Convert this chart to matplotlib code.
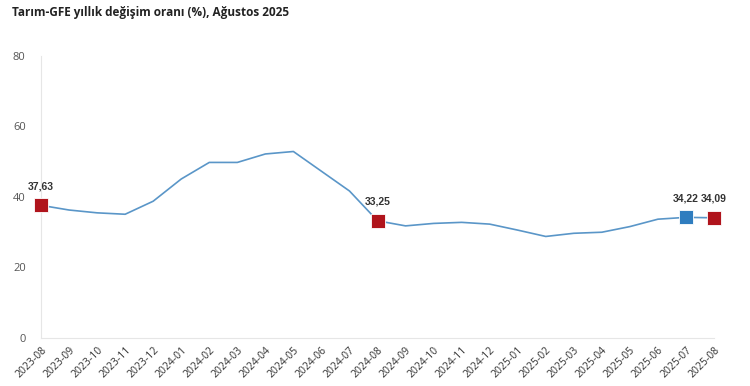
import matplotlib
matplotlib.use("Agg")
import matplotlib.pyplot as plt

plt.rcParams['font.family'] = ['Open Sans', 'DejaVu Sans']

months = ["2023-08", "2023-09", "2023-10", "2023-11", "2023-12",
          "2024-01", "2024-02", "2024-03", "2024-04", "2024-05", "2024-06", "2024-07",
          "2024-08", "2024-09", "2024-10", "2024-11", "2024-12",
          "2025-01", "2025-02", "2025-03", "2025-04", "2025-05", "2025-06", "2025-07",
          "2025-08"]
values = [37.63, 36.3, 35.5, 35.1, 38.8,
          45.1, 49.8, 49.8, 52.2, 52.9, 47.3, 41.7,
          33.25, 31.8, 32.5, 32.8, 32.3,
          30.6, 28.8, 29.7, 30.0, 31.6, 33.7, 34.22,
          34.09]

red_points = ["2023-08", "2024-08", "2025-08"]
blue_points = ["2025-07"]

fig = plt.figure(figsize=(7.5, 3.86), dpi=100)
ax = fig.add_axes([0.0547, 0.1244, 0.8973, 0.7306])

x = list(range(len(months)))
ax.plot(x, values, color="#5a96c8", lw=1.2, zorder=2)

for m in red_points + blue_points:
    i = months.index(m)
    col = "#b0141c" if m in red_points else "#2f7dbf"
    ax.plot(i, values[i], marker="s", ms=10, color=col, mec="#ffffff", mew=0.6,
            linestyle="none", clip_on=False, zorder=3)
    ax.annotate(f"{values[i]:.2f}".replace(".", ","), (i, values[i]),
                xytext=(0, 10), textcoords="offset points", ha="center", va="bottom",
                fontsize=7.5, fontweight="bold", color="#333333",
                family=["Liberation Sans", "DejaVu Sans"])

ax.set_xlim(0, len(months) - 1)
ax.set_ylim(0, 80)
ax.set_yticks([0, 20, 40, 60, 80])
ax.set_xticks(x)
ax.set_xticklabels(months, rotation=45, ha="right", rotation_mode="anchor")

for s in ["top", "right"]:
    ax.spines[s].set_visible(False)
ax.spines["left"].set_color("#e6e6e6")
ax.spines["bottom"].set_color("#e6e6e6")
ax.tick_params(axis="y", length=0, pad=11, labelsize=8, labelcolor="#555555")
ax.tick_params(axis="x", length=0, pad=5, labelsize=7.5, labelcolor="#333333")

fig.text(0.016, 0.985, "Tarım-GFE yıllık değişim oranı (%), Ağustos 2025",
         fontsize=8.5, fontweight="bold", color="#222222", ha="left", va="top")

fig.savefig("out.png", dpi=100)
